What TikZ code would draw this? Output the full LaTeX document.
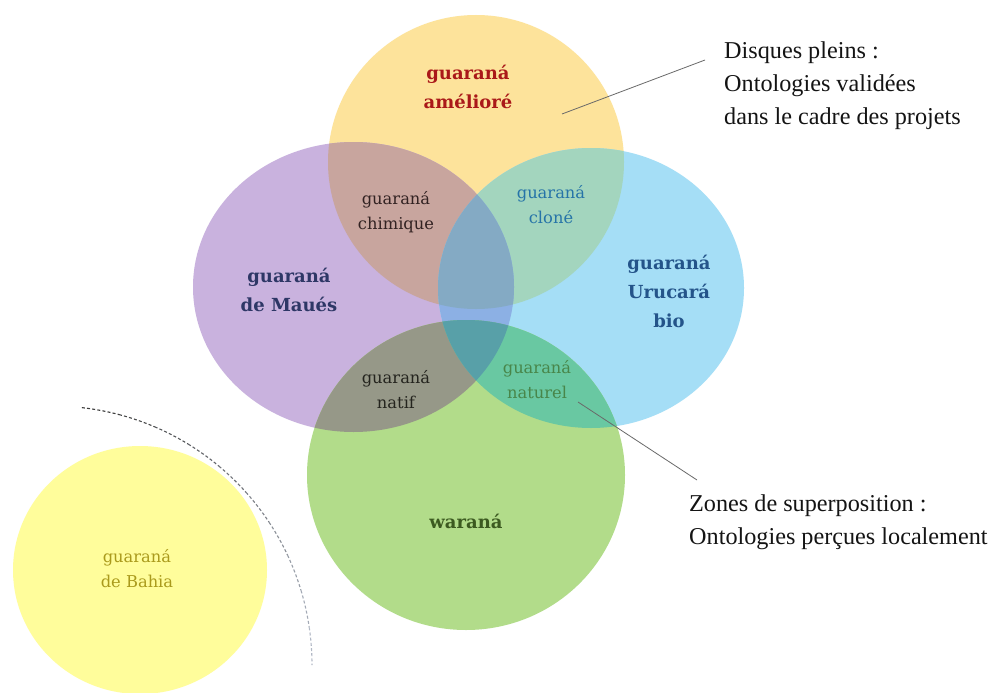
\documentclass[tikz,border=0pt]{standalone}
\usepackage{fontspec}
\setmainfont{Liberation Serif}
\newfontfamily\labfont{DejaVu Serif}
\definecolor{cY}{RGB}{253,227,155}
\definecolor{cP}{RGB}{201,178,222}
\definecolor{cB}{RGB}{165,222,246}
\definecolor{cG}{RGB}{178,220,138}
\definecolor{cBa}{RGB}{255,253,155}
\definecolor{cYP}{RGB}{200,165,158}
\definecolor{cYB}{RGB}{163,213,190}
\definecolor{cPB}{RGB}{140,176,228}
\definecolor{cPG}{RGB}{150,152,136}
\definecolor{cBG}{RGB}{105,200,162}
\definecolor{cYPB}{RGB}{132,170,196}
\definecolor{cPBG}{RGB}{88,160,168}
\definecolor{tRed}{RGB}{170,25,25}
\definecolor{tChim}{RGB}{50,34,34}
\definecolor{tClone}{RGB}{38,116,168}
\definecolor{tMaues}{RGB}{46,55,102}
\definecolor{tUru}{RGB}{36,84,138}
\definecolor{tNatif}{RGB}{36,36,30}
\definecolor{tNat}{RGB}{72,134,74}
\definecolor{tWar}{RGB}{60,90,32}
\definecolor{tBahia}{RGB}{170,154,28}
\definecolor{dDark}{RGB}{60,60,60}
\definecolor{dLight}{RGB}{190,198,212}
\definecolor{lineGray}{RGB}{105,105,105}
\newcommand\shY{(476,162) ellipse [x radius=148, y radius=147]}
\newcommand\shP{(353.5,287) ellipse [x radius=160.5, y radius=145]}
\newcommand\shB{(591,288) ellipse [x radius=153, y radius=140]}
\newcommand\shG{(466,475) ellipse [x radius=159, y radius=155]}
\tikzset{
  lab/.style={font=\labfont\fontsize{16.3}{25}\selectfont, align=center, inner sep=0pt},
  blab/.style={font=\labfont\bfseries\fontsize{18}{29}\selectfont, align=center, inner sep=0pt},
  note/.style={font=\fontsize{24.2}{33}\selectfont, align=left, anchor=west, inner sep=0pt, text=black!92},
  pointer/.style={draw=lineGray, line width=0.8pt}
}
\begin{document}
\begin{tikzpicture}[x=1pt,y=-1pt]
\useasboundingbox (0,0) rectangle (990,693);
\fill[white] (0,0) rectangle (990,693);
% main discs
\fill[cY] \shY;
\fill[cP] \shP;
\fill[cB] \shB;
\fill[cG] \shG;
\begin{scope}\clip \shY; \fill[cYP] \shP; \end{scope}
\begin{scope}\clip \shY; \fill[cYB] \shB; \end{scope}
\begin{scope}\clip \shP; \fill[cPB] \shB; \end{scope}
\begin{scope}\clip \shP; \fill[cPG] \shG; \end{scope}
\begin{scope}\clip \shB; \fill[cBG] \shG; \end{scope}
\begin{scope}\clip \shY; \clip \shP; \fill[cYPB] \shB; \end{scope}
\begin{scope}\clip \shP; \clip \shB; \fill[cPBG] \shG; \end{scope}
% Bahia disc
\fill[cBa] (140,570) ellipse [x radius=127, y radius=124];
% dashed arc, fading
\foreach \i in {0,...,9}{
  \pgfmathsetmacro\sa{-83.6+\i*8.36}
  \pgfmathsetmacro\pc{100-\i*10}
  \draw[dDark!\pc!dLight, line width=1.1pt, dash pattern=on 3pt off 2.2pt]
    ([shift={(\sa:259)}]53,665) arc[start angle=\sa, delta angle=8.36, radius=259];
}
% labels
\node[blab, text=tRed] (amel) at (468,87) {guaraná\\amélioré};
\node[lab, text=tChim] (chim) at (396,212) {guaraná\\chimique};
\node[lab, text=tClone] (clone) at (551,205) {guaraná\\cloné};
\node[blab, text=tMaues] (maues) at (289,290) {guaraná\\de Maués};
\node[blab, text=tUru] (uru) at (669,291) {guaraná\\Urucará\\bio};
\node[lab, text=tNatif] (natif) at (396,390) {guaraná\\natif};
\node[lab, text=tNat] (natur) at (537,380) {guaraná\\naturel};
\node[blab, text=tWar] (warana) at (466,521) {waraná};
\node[lab, text=tBahia] (bahia) at (137,569) {guaraná\\de Bahia};
% notes
\node[note] (disq) at (724,86) {Disques pleins :\\Ontologies validées\\dans le cadre des projets};
\node[note] (zones) at (689,522) {Zones de superposition :\\Ontologies perçues localement};
\coordinate (p1a) at (562,114);
\coordinate (p1b) at (705,60);
\coordinate (p2a) at (578,402);
\coordinate (p2b) at (697,480);
\draw[pointer] (p1a) -- (p1b);
\draw[pointer] (p2a) -- (p2b);
\end{tikzpicture}
\end{document}
